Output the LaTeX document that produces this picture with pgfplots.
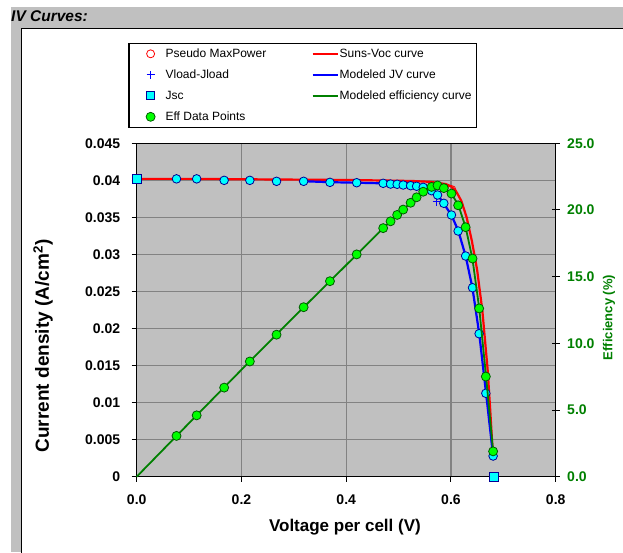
\documentclass[border=0pt]{standalone}
\usepackage{fontspec}
\setmainfont{Liberation Sans}
\usepackage{pgfplots}
\pgfplotsset{compat=1.18}

\definecolor{bggray}{RGB}{192,192,192}
\definecolor{gridgray}{RGB}{130,130,130}
\definecolor{effgreen}{RGB}{0,128,0}
\definecolor{mkgreen}{RGB}{0,255,0}
\definecolor{mkcyan}{RGB}{0,255,255}
\definecolor{mkedge}{RGB}{0,0,150}
\definecolor{darkgreen}{RGB}{0,90,0}

\pgfplotsset{
  markleg/.style={legend image code/.code={%
      \path[draw=none, fill=none] (0pt,-10.5pt) rectangle (36.7pt,10.5pt);
      \draw[##1] plot coordinates {(21.7pt,0pt)};}},
  lineleg/.style={legend image code/.code={%
      \path[draw=none, fill=none] (0pt,-10.5pt) rectangle (27pt,10.5pt);
      \draw[##1] (0pt,0pt) -- (25pt,0pt);}},
}

\begin{document}
\begin{tikzpicture}
\useasboundingbox (0pt,0pt) rectangle (623pt,552pt);
\fill[white] (0pt,0pt) rectangle (623pt,552pt);
\fill[bggray] (11pt,0pt) rectangle (623pt,545.3pt);
\filldraw[fill=white, draw=black, line width=1.3pt] (21.5pt,-5pt) rectangle (630pt,523.5pt);
\node[anchor=west, font=\fontsize{15.5}{18}\selectfont\bfseries\itshape, inner sep=0pt] at (11pt,535.5pt) {IV Curves:};

% left axis: current density
\begin{axis}[
  at={(136.7pt,75.3pt)}, anchor=south west,
  scale only axis, width=419pt, height=333.4pt,
  xmin=0, xmax=0.8, ymin=0, ymax=0.045,
  xtick={0,0.2,0.4,0.6,0.8}, xticklabels={0.0,0.2,0.4,0.6,0.8},
  ytick={0,0.005,0.01,0.015,0.02,0.025,0.03,0.035,0.04,0.045},
  yticklabels={0,0.005,0.01,0.015,0.02,0.025,0.03,0.035,0.04,0.045},
  scaled ticks=false,
  xtick pos=left, ytick pos=left,
  tick align=outside, major tick length=5pt,
  tick style={black, line width=1pt},
  grid=major, grid style={gridgray, line width=1.1pt},
  axis line style={black, line width=1.4pt},
  axis background/.style={fill=bggray},
  ticklabel style={font=\fontsize{14}{16}\selectfont\bfseries},
  xticklabel style={yshift=-9pt},
  yticklabel style={xshift=-8pt},
  xlabel={Voltage per cell (V)},
  ylabel={Current density (A/cm\textsuperscript{2})},
  every axis x label/.style={at={(axis description cs:0.497,-0.152)}, anchor=center, font=\fontsize{17}{20}\selectfont\bfseries},
  every axis y label/.style={at={(axis description cs:-0.2236,0.392)}, rotate=90, anchor=center, font=\fontsize{19}{22}\selectfont\bfseries},
  clip=false,
]
% Suns-Voc curve
\addplot[red, line width=2.2pt] coordinates {
  (0,0.0402) (0.1,0.0402) (0.2,0.04015) (0.3,0.0401) (0.4,0.04005) (0.45,0.04)
  (0.5,0.03995) (0.53,0.0399) (0.56,0.0398) (0.58,0.0396) (0.59,0.0395) (0.60,0.0392)
  (0.61,0.0385) (0.62,0.0372) (0.63,0.0350) (0.64,0.0318) (0.65,0.0279) (0.66,0.0224)
  (0.67,0.0145) (0.675,0.0090) (0.68,0.0030) (0.681,0.0024)
};
% Modeled JV curve
\addplot[blue, line width=2.2pt] coordinates {
  (0.32,0.03988) (0.37,0.03975) (0.42,0.03968) (0.47,0.0396) (0.50,0.03943)
  (0.53,0.03923) (0.55,0.0390) (0.565,0.0385) (0.575,0.0380) (0.586,0.0369)
  (0.601,0.0353) (0.614,0.0332) (0.628,0.0298) (0.641,0.0255) (0.654,0.0193)
  (0.667,0.0113) (0.6805,0.0028)
};
% Pseudo MaxPower
\addplot[only marks, mark=o, red, mark size=4.5pt, mark options={line width=0.8pt}] coordinates {(0.601,0.0387)};
% Vload-Jload
\addplot[only marks, mark=+, blue, mark size=4pt, mark options={line width=0.8pt}] coordinates {(0.5725,0.0371)};
% measured JV points
\addplot[only marks, mark=*, mark size=4.3pt, mark options={fill=mkcyan, draw=mkedge, line width=0.8pt}] coordinates {
  (0.076,0.0402) (0.1145,0.0402) (0.167,0.0400) (0.216,0.0400) (0.267,0.03987)
  (0.3187,0.03987) (0.369,0.03973) (0.420,0.03968) (0.4706,0.0396) (0.4847,0.0395)
  (0.4973,0.03947) (0.5088,0.03937) (0.523,0.03928) (0.5344,0.0392) (0.547,0.03906)
  (0.563,0.0386) (0.5744,0.03802) (0.5864,0.0369) (0.601,0.03532) (0.6137,0.03316)
  (0.628,0.02979) (0.6412,0.02551) (0.6538,0.0193) (0.6666,0.01126) (0.6805,0.00279)
};
% Jsc
\addplot[only marks, mark=square*, mark size=4.5pt, mark options={fill=mkcyan, draw=mkedge, line width=0.8pt}] coordinates {(0,0.0402) (0.6824,0)};
\end{axis}

% right axis: efficiency
\begin{axis}[
  at={(136.7pt,75.3pt)}, anchor=south west,
  scale only axis, width=419pt, height=333.4pt,
  xmin=0, xmax=0.8, ymin=0, ymax=25,
  axis x line=none, axis y line*=right,
  ytick={0,5,10,15,20,25}, yticklabels={0.0,5.0,10.0,15.0,20.0,25.0},
  tick align=center, major tick length=8pt,
  tick style={black, line width=1pt},
  axis line style={black, line width=1.4pt},
  yticklabel style={effgreen, font=\fontsize{14}{16}\selectfont\bfseries, xshift=4pt},
  ylabel={Efficiency (\%)},
  every axis y label/.style={at={(axis description cs:1.127,0.4775)}, rotate=90, anchor=center, effgreen, font=\fontsize{13}{15}\selectfont\bfseries},
  clip=false,
  legend columns=2,
  legend style={at={(axis description cs:-0.02,1.3017)}, anchor=north west,
    draw=black, line width=1.2pt, fill=white, inner sep=0pt,
    column sep=0pt, row sep=0pt, nodes={inner sep=0pt},
    font=\fontsize{12}{14}\selectfont},
  legend cell align=left,
]
\addlegendimage{only marks, mark=o, red, mark size=4pt, mark options={line width=0.8pt}, markleg}
\addlegendimage{red, line width=2.2pt, lineleg}
\addlegendimage{only marks, mark=+, blue, mark size=4pt, mark options={line width=0.8pt}, markleg}
\addlegendimage{blue, line width=2.2pt, lineleg}
\addlegendimage{only marks, mark=square*, mark size=4pt, mark options={fill=mkcyan, draw=mkedge, line width=0.8pt}, markleg}
% Modeled efficiency curve
\addplot[effgreen, line width=1.8pt, lineleg] coordinates {
  (0,0) (0.1,4.02) (0.2,8.02) (0.3,11.97) (0.4,15.87) (0.47,18.61) (0.50,19.72)
  (0.53,20.79) (0.55,21.45) (0.565,21.75) (0.575,21.85) (0.586,21.62) (0.601,21.22)
  (0.614,20.38) (0.628,18.71) (0.641,16.35) (0.654,12.62) (0.667,7.54) (0.6805,1.91)
};
% Eff data points
\addplot[only marks, mark=*, mark size=4.5pt, mark options={fill=mkgreen, draw=darkgreen, line width=0.8pt}, markleg] coordinates {
  (0.076,3.06) (0.1145,4.60) (0.167,6.68) (0.216,8.64) (0.267,10.65) (0.3187,12.71)
  (0.369,14.66) (0.420,16.67) (0.4706,18.64) (0.4847,19.15) (0.4973,19.63) (0.5088,20.03)
  (0.523,20.54) (0.5344,20.95) (0.547,21.37) (0.563,21.73) (0.5744,21.84) (0.5864,21.64)
  (0.601,21.23) (0.6137,20.35) (0.628,18.71) (0.6412,16.36) (0.6538,12.62) (0.6666,7.51)
  (0.6805,1.90)
};
\legend{\makebox[146pt][l]{Pseudo MaxPower}, \makebox[137pt][l]{Suns-Voc curve},
  \makebox[146pt][l]{Vload-Jload}, \makebox[137pt][l]{Modeled JV curve},
  \makebox[146pt][l]{Jsc}, \makebox[137pt][l]{Modeled efficiency curve},
  \makebox[146pt][l]{Eff Data Points}}
\end{axis}
\end{tikzpicture}
\end{document}
